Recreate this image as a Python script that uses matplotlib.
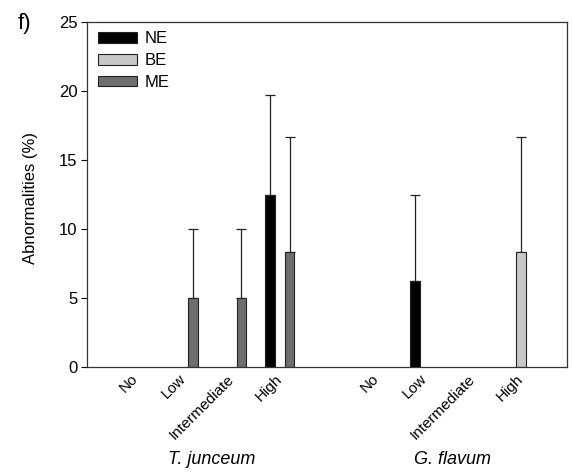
import matplotlib
matplotlib.use("Agg")
import matplotlib.pyplot as plt
import numpy as np

categories = ["No", "Low", "Intermediate", "High", "No", "Low", "Intermediate", "High"]
species = ["T. junceum", "G. flavum"]
positions = [1, 2, 3, 4, 6, 7, 8, 9]

ne_vals = [0, 0, 0, 12.5, 0, 6.25, 0, 0]
ne_err = [0, 0, 0, 7.2, 0, 6.25, 0, 0]
be_vals = [0, 0, 0, 0, 0, 0, 0, 8.33]
be_err = [0, 0, 0, 0, 0, 0, 0, 8.37]
me_vals = [0, 5, 5, 8.33, 0, 0, 0, 0]
me_err = [0, 5, 5, 8.37, 0, 0, 0, 0]

series = [("NE", ne_vals, ne_err, "#000000"),
          ("BE", be_vals, be_err, "#c8c8c8"),
          ("ME", me_vals, me_err, "#6e6e6e")]

plt.rcParams['font.family'] = ['Liberation Sans', 'DejaVu Sans']

fig = plt.figure(figsize=(5.72, 4.72), dpi=100)
ax = fig.add_axes([87/572, 1-367/472, (567-87)/572, (367-22)/472])

w = 0.2
pos = np.array(positions, dtype=float)
for i, (name, vals, errs, col) in enumerate(series):
    x = pos + (i - 1) * w
    vals = np.array(vals)
    errs = np.array(errs)
    mask = vals > 0
    ax.bar(x[mask], vals[mask], width=w, color=col, edgecolor="#222222",
           linewidth=0.8, label=name, zorder=2)
    ax.errorbar(x[mask], vals[mask], yerr=[np.zeros(mask.sum()), errs[mask]],
                fmt="none", ecolor="#222222", elinewidth=0.9, capsize=3.7,
                capthick=0.9, zorder=1)

ax.set_xlim(0.0, 9.95)
ax.set_ylim(0, 25)
ax.set_yticks([0, 5, 10, 15, 20, 25])
ax.tick_params(axis="y", direction="out", length=4, labelsize=12, width=0.8, pad=3)
ax.set_xticks(positions)
ax.set_xticklabels(categories, rotation=45, ha="right", va="center",
                   rotation_mode="anchor", fontsize=11)
ax.tick_params(axis="x", length=0, pad=7)
for s in ax.spines.values():
    s.set_linewidth(0.9)
    s.set_color("#333333")

ax.set_ylabel("Abnormalities (%)", fontsize=12)
ax.yaxis.set_label_coords(-0.102, 0.49)

handles, labels = ax.get_legend_handles_labels()
order = [labels.index(n) for n in ["NE", "BE", "ME"]]
ax.legend([handles[k] for k in order], [labels[k] for k in order],
          loc="upper left", frameon=False, fontsize=12,
          handlelength=2.3, handleheight=0.6, borderaxespad=0.0,
          labelspacing=0.4, handletextpad=0.45, bbox_to_anchor=(0.01, 0.992))

fig.text(18/572, 1-24/472, "f)", fontsize=16, va="center", ha="left")
fig.text(212/572, 1-460/472, species[0], fontsize=13, style="italic",
         ha="center", va="center")
fig.text(453/572, 1-460/472, species[1], fontsize=13, style="italic",
         ha="center", va="center")

fig.savefig("out.png", dpi=100)
